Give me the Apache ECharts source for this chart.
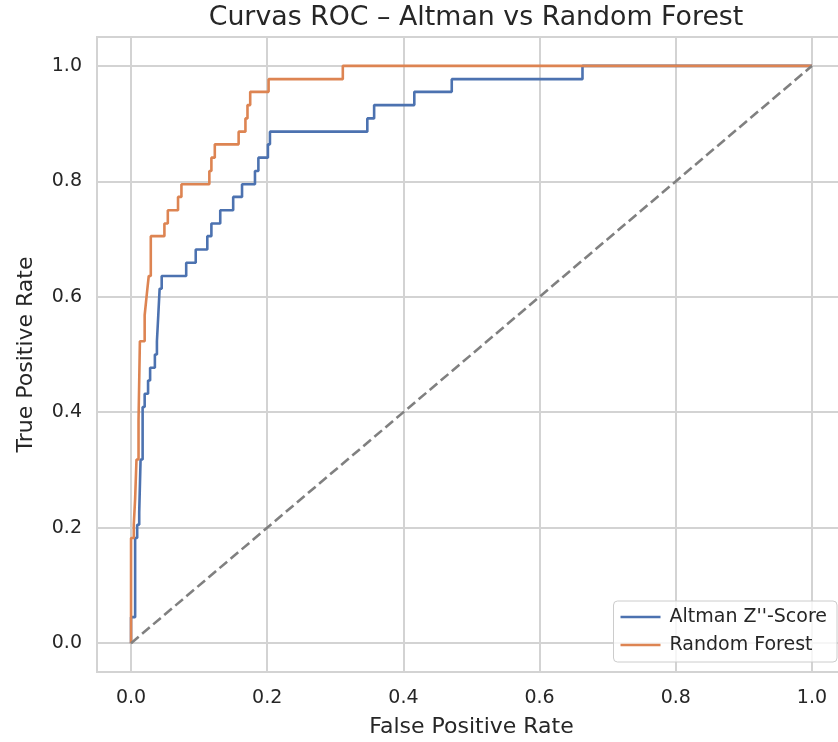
<!DOCTYPE html>
<html>
<head>
<meta charset="utf-8">
<style>html,body{margin:0;padding:0;background:#fff;}#chart{width:838px;height:742px;}</style>
<script src="https://cdn.jsdelivr.net/npm/echarts@6/dist/echarts.min.js"></script>
</head>
<body>
<div id="chart"></div>
<script>
// Altman Z''-Score ROC points (fpr, tpr)
var altmanFpr = [0, 0, 0.006, 0.006, 0.009, 0.009, 0.012, 0.012, 0.014, 0.014, 0.017, 0.017, 0.020, 0.020, 0.025, 0.025, 0.028, 0.028, 0.035, 0.035, 0.038, 0.038, 0.040, 0.040, 0.042, 0.042, 0.045, 0.045, 0.081, 0.081, 0.095, 0.095, 0.112, 0.112, 0.118, 0.118, 0.131, 0.131, 0.150, 0.150, 0.163, 0.163, 0.182, 0.182, 0.187, 0.187, 0.201, 0.201, 0.204, 0.204, 0.347, 0.347, 0.357, 0.357, 0.416, 0.416, 0.471, 0.471, 0.663, 0.663, 1];
var altmanTpr = [0, 0.045, 0.045, 0.182, 0.182, 0.205, 0.205, 0.227, 0.227, 0.318, 0.318, 0.409, 0.409, 0.432, 0.432, 0.455, 0.455, 0.477, 0.477, 0.500, 0.500, 0.523, 0.523, 0.568, 0.568, 0.614, 0.614, 0.636, 0.636, 0.659, 0.659, 0.682, 0.682, 0.705, 0.705, 0.727, 0.727, 0.750, 0.750, 0.773, 0.773, 0.795, 0.795, 0.818, 0.818, 0.841, 0.841, 0.864, 0.864, 0.886, 0.886, 0.909, 0.909, 0.932, 0.932, 0.955, 0.955, 0.977, 0.977, 1, 1];
// Random Forest ROC points (fpr, tpr)
var rfFpr = [0, 0, 0.004, 0.004, 0.006, 0.006, 0.008, 0.008, 0.011, 0.011, 0.013, 0.013, 0.020, 0.020, 0.022, 0.022, 0.024, 0.024, 0.026, 0.026, 0.029, 0.029, 0.049, 0.049, 0.054, 0.054, 0.069, 0.069, 0.074, 0.074, 0.115, 0.115, 0.118, 0.118, 0.123, 0.123, 0.158, 0.158, 0.168, 0.168, 0.171, 0.171, 0.175, 0.175, 0.202, 0.202, 0.311, 0.311, 1];
var rfTpr = [0, 0.182, 0.182, 0.205, 0.205, 0.250, 0.250, 0.318, 0.318, 0.386, 0.386, 0.523, 0.523, 0.568, 0.568, 0.591, 0.591, 0.614, 0.614, 0.636, 0.636, 0.705, 0.705, 0.727, 0.727, 0.750, 0.750, 0.773, 0.773, 0.795, 0.795, 0.818, 0.818, 0.841, 0.841, 0.864, 0.864, 0.886, 0.886, 0.909, 0.909, 0.932, 0.932, 0.955, 0.955, 0.977, 0.977, 1, 1];
// Chance diagonal
var diagX = [0, 1];
var diagY = [0, 1];
// Tick values
var tickValues = [0, 0.2, 0.4, 0.6, 0.8, 1.0];
var seriesNames = ["Altman Z''-Score", "Random Forest"];

function zip(xs, ys) { return xs.map(function (x, i) { return [x, ys[i]]; }); }

var FONT = 'DejaVu Sans';
var TXT = '#262626';
var GRIDC = '#d3d3d3';

function axis(nameStr, isX) {
  return {
    type: 'value', min: -0.05, max: 1.05,
    name: nameStr, nameLocation: 'middle',
    nameGap: isX ? 44 : 60,
    nameTextStyle: { fontFamily: FONT, fontSize: 22, color: TXT },
    axisLine: { show: false },
    axisTick: { show: false, customValues: tickValues },
    axisLabel: {
      customValues: tickValues, fontFamily: FONT, fontSize: 19, color: TXT, margin: isX ? 17 : 15,
      formatter: function (v) { return v.toFixed(1); }
    },
    splitLine: { show: true, lineStyle: { color: GRIDC, width: 2 } }
  };
}

var chart = echarts.init(document.getElementById('chart'), null, { renderer: 'canvas' });
chart.setOption({
  animation: false,
  backgroundColor: '#ffffff',
  title: {
    text: 'Curvas ROC – Altman vs Random Forest',
    left: 471, top: 0, textAlign: 'center',
    textStyle: { fontFamily: FONT, fontSize: 26.8, fontWeight: 'normal', color: TXT }
  },
  grid: { left: 97, top: 37, width: 749, bottom: 70, outerBoundsMode: 'none', containLabel: false,
    show: true, borderColor: GRIDC, borderWidth: 2, backgroundColor: 'transparent' },
  xAxis: axis('False Positive Rate', true),
  yAxis: axis('True Positive Rate', false),
  legend: {
    orient: 'vertical', right: 1, top: 601,
    padding: [5, 10, 6, 7], itemGap: 6, itemWidth: 40, itemHeight: 2.6, icon: 'rect',
    backgroundColor: 'rgba(255,255,255,0.8)', borderColor: '#cccccc', borderWidth: 1, borderRadius: 4,
    textStyle: { fontFamily: FONT, fontSize: 19, color: TXT, lineHeight: 22, padding: [0, 0, 0, 4] },
    data: seriesNames
  },
  series: [
    { name: seriesNames[0], type: 'line', data: zip(altmanFpr, altmanTpr), symbol: 'none', z: 3,
      lineStyle: { color: '#4c72b0', width: 2.6 }, itemStyle: { color: '#4c72b0' } },
    { name: seriesNames[1], type: 'line', data: zip(rfFpr, rfTpr), symbol: 'none', z: 4,
      lineStyle: { color: '#dd8452', width: 2.6 }, itemStyle: { color: '#dd8452' } },
    { name: 'diag', type: 'line', data: zip(diagX, diagY), symbol: 'none', z: 5,
      lineStyle: { color: '#808080', width: 2.6, type: [10, 4.5] } }
  ]
});
</script>
</body>
</html>
